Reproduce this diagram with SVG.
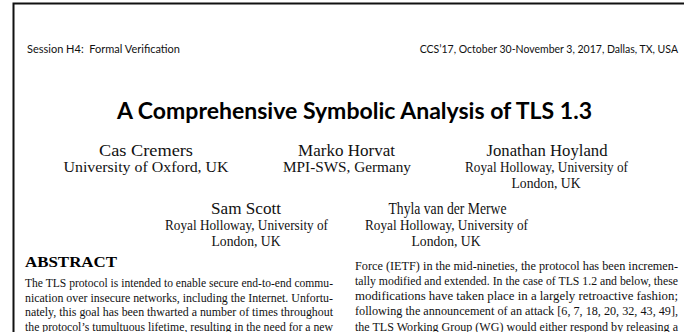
<svg xmlns="http://www.w3.org/2000/svg" width="684" height="332" viewBox="0 0 684 332">
  <style>
    .hdr { font-family: Lato, "Open Sans", "DejaVu Sans", sans-serif; font-size: 10.5px; fill: #111; }
    .title { font-family: Lato, "Open Sans", "DejaVu Sans", sans-serif; font-size: 23px; font-weight: 700; fill: #000; }
    .name { font-family: "Liberation Serif", "DejaVu Serif", serif; font-size: 16.5px; fill: #111; text-anchor: middle; }
    .affil { font-family: "Liberation Serif", "DejaVu Serif", serif; font-size: 14px; fill: #111; text-anchor: middle; }
    .sec { font-family: "Liberation Serif", "DejaVu Serif", serif; font-size: 14.5px; font-weight: 700; fill: #000; }
    .body { font-family: "Liberation Serif", "DejaVu Serif", serif; font-size: 12.4px; fill: #111; }
    .body-r { font-family: "Liberation Serif", "DejaVu Serif", serif; font-size: 11.9px; fill: #111; }
  </style>

  <rect x="0" y="0" width="684" height="332" fill="#fff"/>
  <!-- page frame: top and left edges -->
  <path d="M13.5 332 V3.5 H684" fill="none" stroke="#111" stroke-width="2"/>

  <!-- running header -->
  <g id="header">
    <text class="hdr" x="27" y="53" textLength="153" lengthAdjust="spacingAndGlyphs" xml:space="preserve">Session H4:  Formal Verification</text>
    <text class="hdr" x="678" y="53" text-anchor="end">CCS’17, October 30-November 3, 2017, Dallas, TX, USA</text>
  </g>

  <!-- title -->
  <g id="title">
    <text class="title" x="117" y="119" textLength="475" lengthAdjust="spacingAndGlyphs">A Comprehensive Symbolic Analysis of TLS 1.3</text>
  </g>

  <!-- authors, first row -->
  <g id="author-cremers">
    <text class="name" x="146" y="156" textLength="94" lengthAdjust="spacingAndGlyphs">Cas Cremers</text>
    <text class="affil" x="146" y="172" textLength="165" lengthAdjust="spacingAndGlyphs">University of Oxford, UK</text>
  </g>
  <g id="author-horvat">
    <text class="name" x="346.5" y="156" textLength="97" lengthAdjust="spacingAndGlyphs">Marko Horvat</text>
    <text class="affil" x="347" y="172" textLength="128" lengthAdjust="spacingAndGlyphs">MPI-SWS, Germany</text>
  </g>
  <g id="author-hoyland">
    <text class="name" x="547" y="156" textLength="121" lengthAdjust="spacingAndGlyphs">Jonathan Hoyland</text>
    <text class="affil" x="546.5" y="172" textLength="163" lengthAdjust="spacingAndGlyphs">Royal Holloway, University of</text>
    <text class="affil" x="546" y="188" textLength="69" lengthAdjust="spacingAndGlyphs">London, UK</text>
  </g>

  <!-- authors, second row -->
  <g id="author-scott">
    <text class="name" x="246" y="214" textLength="70" lengthAdjust="spacingAndGlyphs">Sam Scott</text>
    <text class="affil" x="246.5" y="229.5" textLength="163" lengthAdjust="spacingAndGlyphs">Royal Holloway, University of</text>
    <text class="affil" x="246" y="245.5" textLength="69" lengthAdjust="spacingAndGlyphs">London, UK</text>
  </g>
  <g id="author-vandermerwe">
    <text class="name" x="447.5" y="214" textLength="118" lengthAdjust="spacingAndGlyphs">Thyla van der Merwe</text>
    <text class="affil" x="446.5" y="229.5" textLength="163" lengthAdjust="spacingAndGlyphs">Royal Holloway, University of</text>
    <text class="affil" x="446" y="245.5" textLength="69" lengthAdjust="spacingAndGlyphs">London, UK</text>
  </g>

  <!-- abstract, left column -->
  <g id="abstract">
    <text class="sec" x="25" y="267" textLength="92" lengthAdjust="spacingAndGlyphs">ABSTRACT</text>
    <text class="body" x="25" y="287" textLength="308" lengthAdjust="spacingAndGlyphs">The TLS protocol is intended to enable secure end-to-end commu-</text>
    <text class="body" x="25" y="301.5" textLength="308" lengthAdjust="spacingAndGlyphs">nication over insecure networks, including the Internet. Unfortu-</text>
    <text class="body" x="25" y="316" textLength="308" lengthAdjust="spacingAndGlyphs">nately, this goal has been thwarted a number of times throughout</text>
    <text class="body" x="25" y="330.5" textLength="308" lengthAdjust="spacingAndGlyphs">the protocol’s tumultuous lifetime, resulting in the need for a new</text>
  </g>

  <!-- introduction text, right column -->
  <g id="intro">
    <text class="body-r" x="355" y="269.5" textLength="323" lengthAdjust="spacingAndGlyphs">Force (IETF) in the mid-nineties, the protocol has been incremen-</text>
    <text class="body-r" x="355" y="284.8" textLength="323" lengthAdjust="spacingAndGlyphs">tally modified and extended. In the case of TLS 1.2 and below, these</text>
    <text class="body-r" x="355" y="300" textLength="323" lengthAdjust="spacingAndGlyphs">modifications have taken place in a largely retroactive fashion;</text>
    <text class="body-r" x="355" y="315.3" textLength="323" lengthAdjust="spacingAndGlyphs">following the announcement of an attack [6, 7, 18, 20, 32, 43, 49],</text>
    <text class="body-r" x="355" y="330.5" textLength="323" lengthAdjust="spacingAndGlyphs">the TLS Working Group (WG) would either respond by releasing a</text>
  </g>
</svg>
